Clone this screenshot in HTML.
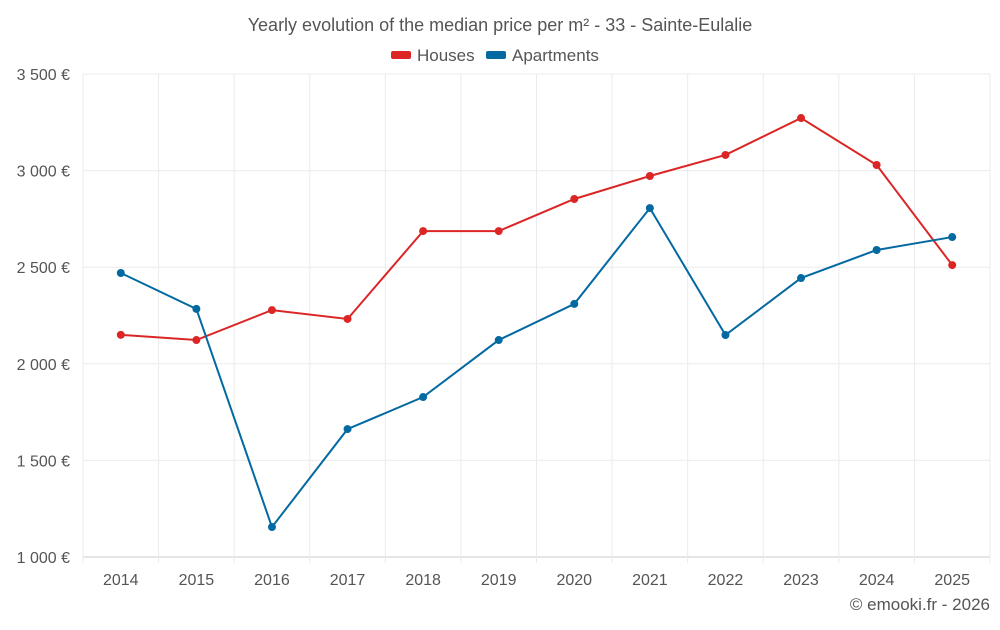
<!DOCTYPE html>
<html><head><meta charset="utf-8"><style>
body{margin:0;background:#fff;font-family:"Liberation Sans",sans-serif}
svg text{font-family:"Liberation Sans",sans-serif;fill:#555}
</style></head><body>
<svg width="1000" height="625">
<text x="500" y="31" text-anchor="middle" font-size="18">Yearly evolution of the median price per m² - 33 - Sainte-Eulalie</text>
<g>
<rect x="391" y="51" width="20" height="8" rx="2" fill="#dc2626"/>
<text x="417" y="61" font-size="17">Houses</text>
<rect x="486" y="51" width="20" height="8" rx="2" fill="#0369a1"/>
<text x="512" y="61" font-size="17">Apartments</text>
</g>
<g id="grid"></g><g id="axes"></g><g id="series"></g>
<text x="990" y="610" text-anchor="end" font-size="17">© emooki.fr - 2026</text>
</svg>
<script>
const years=["2014","2015","2016","2017","2018","2019","2020","2021","2022","2023","2024","2025"];
const houses=[2150,2123,2278,2232,2687,2687,2853,2972,3081,3272,3029,2511];
const apartments=[2470,2284,1155,1662,1828,2123,2310,2806,2149,2444,2589,2656];
const yTicks=[1000,1500,2000,2500,3000,3500];
const yLabels=["1 000 €","1 500 €","2 000 €","2 500 €","3 000 €","3 500 €"];
const NS="http://www.w3.org/2000/svg";
const L=83,R=990,T=74,B=557,ymin=1000,ymax=3500;
const step=(R-L)/years.length;
const xs=i=>L+step*(i+0.5);
const ys=v=>B-(v-ymin)/(ymax-ymin)*(B-T);
function mk(tag,attrs,parent){const e=document.createElementNS(NS,tag);for(const k in attrs)e.setAttribute(k,attrs[k]);parent.appendChild(e);return e;}
const grid=document.getElementById('grid'),axes=document.getElementById('axes'),ser=document.getElementById('series');
yTicks.forEach((v,i)=>{
 const l=mk('line',{x1:L,x2:R,y1:ys(v),y2:ys(v),stroke:i==0?'#ccc':'#ebebeb'},grid);
 
 
 const t=mk('text',{x:70,y:ys(v)+6,'text-anchor':'end','font-size':16},axes);t.textContent=yLabels[i];
 
 
});
for(let i=0;i<=years.length;i++){
 const l=mk('line',{x1:L+step*i,x2:L+step*i,y1:T,y2:B+6,stroke:'#ebebeb'},grid);
 
 
}
years.forEach((y,i)=>{
 const t=mk('text',{x:xs(i),y:585,'text-anchor':'middle','font-size':16},axes);t.textContent=y;
 
 
});
function draw(data,color,name){
 const p=mk('polyline',{points:data.map((v,i)=>xs(i)+','+ys(v)).join(' '),fill:'none',stroke:color,'stroke-width':2},ser);
 
 
 data.forEach((v,i)=>{
  const c=mk('circle',{cx:xs(i),cy:ys(v),r:4,fill:color},ser);
  
  
 });
}
draw(houses,'#dc2626','houses');
draw(apartments,'#0369a1','apartments');
</script>
</body></html>
